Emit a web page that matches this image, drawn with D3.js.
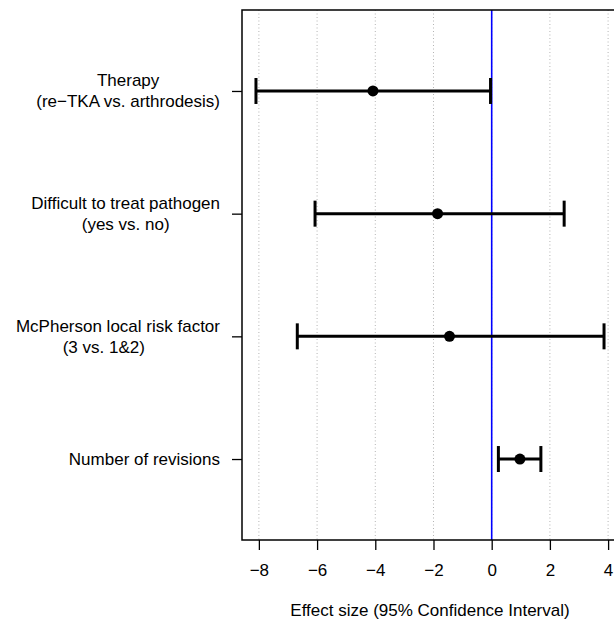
<!DOCTYPE html>
<html><head><meta charset="utf-8">
<script src="https://cdn.jsdelivr.net/npm/d3@7"></script>
<style>body{margin:0;background:#fff}svg{display:block}text{font-family:"Liberation Sans",Arial,sans-serif;fill:#000}</style>
</head><body>
<script>
const labels = [
  ["Therapy", "(re\u2212TKA vs. arthrodesis)"],
  ["Difficult to treat pathogen", "(yes vs. no)"],
  ["McPherson local risk factor", "(3 vs. 1&2)      "],
  ["Number of revisions"]
];
const estimates = [-4.08, -1.86, -1.45, 0.97];
const lowers = [-8.10, -6.07, -6.68, 0.23];
const uppers = [-0.04, 2.49, 3.86, 1.69];
const xTicks = [-8, -6, -4, -2, 0, 2, 4];
const xTitle = "Effect size (95% Confidence Interval)";

const FS = 17;
const W = 614, H = 620;
const svg = d3.select("body").append("svg").attr("width", W).attr("height", H);
const L = 242, R = 618, T = 10, B = 540;
const x = d3.scaleLinear().domain([-8.58, 4.34]).range([L, R]);
const y = d3.scaleLinear().domain([0.34, 4.66]).range([T, B]);

// grid
svg.append("g").selectAll("line").data(xTicks).join("line")
  .attr("x1", d => x(d)).attr("x2", d => x(d)).attr("y1", T).attr("y2", B)
  .attr("stroke", "#b4b4b4").attr("stroke-width", 1).attr("stroke-dasharray", "1,2.5");

// zero line
svg.append("line").attr("x1", x(0)).attr("x2", x(0)).attr("y1", T).attr("y2", B)
  .attr("stroke", "#0000ff").attr("stroke-width", 1.6);

// x axis
const xAxis = d3.axisBottom(x).tickValues(xTicks).tickSize(10).tickPadding(14)
  .tickFormat(d => d < 0 ? "\u2212" + Math.abs(d) : d);
const gx = svg.append("g").attr("transform", `translate(0,${B})`).call(xAxis);
gx.select(".domain").remove();
gx.selectAll(".tick line").attr("stroke", "#000").attr("stroke-width", 1.3);
gx.selectAll(".tick text").attr("font-size", FS).style("font-family", '"Liberation Sans",Arial,sans-serif');

// y axis ticks
const rows = labels.map((l, i) => i + 1);
const yAxis = d3.axisLeft(y).tickValues(rows).tickSize(10).tickFormat("");
const gy = svg.append("g").attr("transform", `translate(${L},0)`).call(yAxis);
gy.select(".domain").remove();
gy.selectAll(".tick line").attr("stroke", "#000").attr("stroke-width", 1.3);

// y labels
const lab = svg.append("g");
labels.forEach((lines, i) => {
  const g = lab.append("g");
  const n = lines.length;
  const texts = lines.map((s, j) => g.append("text").attr("font-size", FS)
    .attr("xml:space", "preserve").style("white-space", "pre")
    .attr("y", y(i + 1) + (j - (n - 1) / 2) * 21).attr("dy", "0.35em").text(s));
  const maxW = d3.max(texts, t => t.node().getComputedTextLength());
  texts.forEach(t => t.attr("text-anchor", "middle").attr("x", 220 - maxW / 2));
});

// box
svg.append("rect").attr("x", L).attr("y", T).attr("width", R - L).attr("height", B - T)
  .attr("fill", "none").attr("stroke", "#000").attr("stroke-width", 1.5);

// error bars
const eb = svg.append("g");
rows.forEach((r, i) => {
  eb.append("line").attr("x1", x(lowers[i])).attr("x2", x(uppers[i]))
    .attr("y1", y(r)).attr("y2", y(r)).attr("stroke", "#000").attr("stroke-width", 3);
  [lowers[i], uppers[i]].forEach(v => eb.append("line").attr("x1", x(v)).attr("x2", x(v))
    .attr("y1", y(r) - 13).attr("y2", y(r) + 13).attr("stroke", "#000").attr("stroke-width", 3));
  eb.append("circle").attr("cx", x(estimates[i])).attr("cy", y(r)).attr("r", 5.5).attr("fill", "#000");
});

// x title
svg.append("text").attr("x", (L + R) / 2).attr("y", 610).attr("dy", "0.35em")
  .attr("text-anchor", "middle").attr("font-size", FS).text(xTitle);
</script>
</body></html>
